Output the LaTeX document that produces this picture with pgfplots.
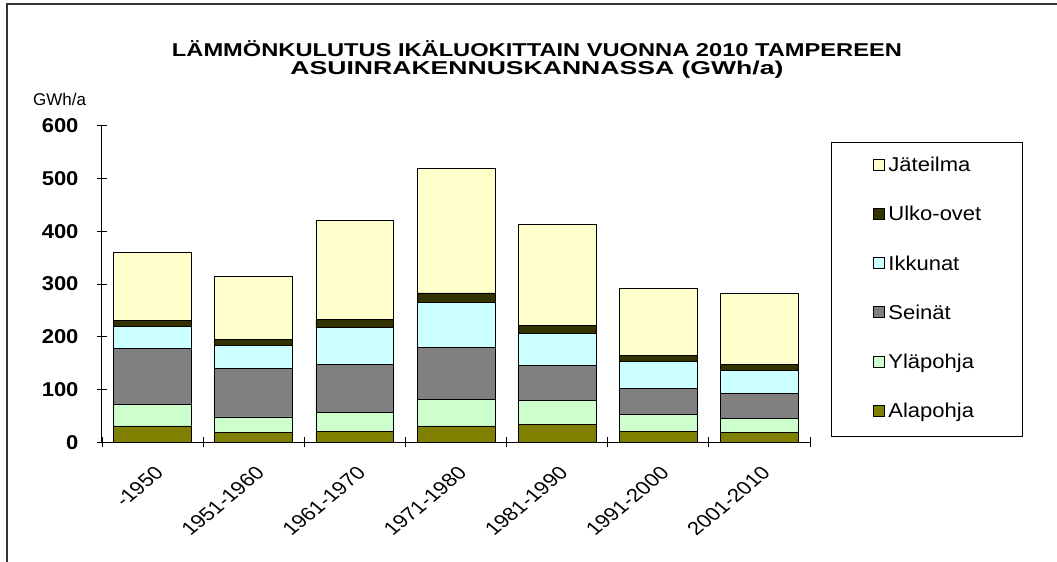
\documentclass[border=0pt]{standalone}
\usepackage{fontspec}
\setmainfont{Liberation Sans}[FakeStretch=1.1]
\newfontfamily\plainfont{Liberation Sans}
\usepackage{graphicx}
\usepackage{pgfplots}
\usepackage{pgfplotstable}
\pgfplotsset{compat=1.18}
\definecolor{cJ}{HTML}{FFFFCC}
\definecolor{cU}{HTML}{333300}
\definecolor{cI}{HTML}{CCFFFF}
\definecolor{cS}{HTML}{808080}
\definecolor{cY}{HTML}{CCFFCC}
\definecolor{cA}{HTML}{808000}
\pgfplotstableread{
x A Y S I U J
0 31 41 105 43 11 129
1 18 30 92 44 11 119
2 21 35 92 70 15 188
3 31 51 98 85 18 236
4 33 47 66 60 15 191
5 21 32 49 51 11 128
6 18 28 46 44 11 135
}\datatable
\begin{document}
\begin{tikzpicture}[x=1bp,y=1bp]
\begin{axis}[
  scale only axis, width=708bp, height=316.6bp,
  xmin=-0.5, xmax=6.5, ymin=0, ymax=600,
  ybar stacked, bar width=0.77,
  axis lines*=left,
  axis line style={line width=1bp, black},
  xtick={0,...,6},
  xticklabels={-1950,1951-1960,1961-1970,1971-1980,1981-1990,1991-2000,2001-2010},
  major x tick style={draw=none},
  minor xtick={-0.5,0.5,...,6.5},
  ytick={0,100,...,600},
  tick align=center, major tick length=10bp, minor tick length=10bp,
  tick style={black, line width=0.8bp},
  /pgf/number format/assume math mode=true,
  yticklabel style={xshift=-15bp, font=\bfseries\fontsize{20bp}{20bp}\selectfont},
  xticklabel style={xshift=1bp, yshift=-13bp, xscale=1.2, rotate=45, anchor=north east, font=\plainfont\fontsize{18.5bp}{18.5bp}\selectfont},
  reverse legend,
  legend cell align=left,
  legend style={at={(1.0297,0.9476)}, anchor=north west, draw=black, line width=0.8bp,
    inner xsep=0pt, inner ysep=15bp, row sep=31.2bp, column sep=0pt,
    nodes={inner sep=0pt, text height=14bp, text depth=4bp, text width=134bp, align=left,
      font=\fontsize{20bp}{20bp}\selectfont}},
  every axis plot post/.append style={draw=black, line width=0.8bp,
    legend image code/.code={\path[draw=none, fill=none] (-42bp,0) rectangle (15bp,0.1bp);
      \draw[##1, line width=0.8bp] (0bp,-3.5bp) rectangle (11bp,7.5bp);}},
]
\addplot[fill=cA] table[x=x,y=A] {\datatable};
\addplot[fill=cY] table[x=x,y=Y] {\datatable};
\addplot[fill=cS] table[x=x,y=S] {\datatable};
\addplot[fill=cI] table[x=x,y=I] {\datatable};
\addplot[fill=cU] table[x=x,y=U] {\datatable};
\addplot[fill=cJ] table[x=x,y=J] {\datatable};
\legend{Alapohja,Yläpohja,Seinät,Ikkunat,Ulko-ovet,Jäteilma}
\coordinate (O) at (axis cs:-0.5,0);
\end{axis}
\pgfresetboundingbox
\begin{scope}[shift={(O)}]
\begin{scope}[shift={(-102,-119.7)}]
\path[use as bounding box] (0,0) rectangle (1057,562);
\draw[line width=1.5bp, black!80] (7,0) -- (7,558) -- (1057,558);
\node[anchor=base] at (537,505) {\resizebox{730bp}{\height}{\plainfont\bfseries\fontsize{18.6bp}{18.6bp}\selectfont LÄMMÖNKULUTUS IKÄLUOKITTAIN VUONNA 2010 TAMPEREEN}};
\node[anchor=base] at (537,487) {\resizebox{493bp}{\height}{\plainfont\bfseries\fontsize{18.6bp}{18.6bp}\selectfont ASUINRAKENNUSKANNASSA (GWh/a)}};
\node[anchor=base west, inner sep=0pt] at (33,456) {\plainfont\fontsize{17bp}{17bp}\selectfont GWh/a};
\end{scope}
\end{scope}
\end{tikzpicture}
\end{document}
